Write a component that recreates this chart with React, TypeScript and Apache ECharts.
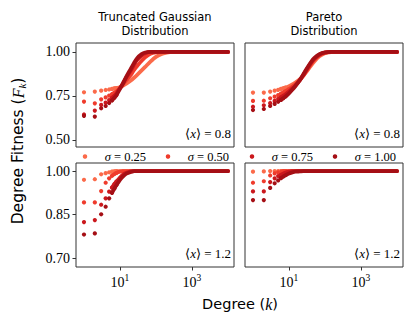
import React, { useEffect, useRef } from 'react';
import * as echarts from 'echarts';

// ---------- data ----------
const degrees = [1, 2, 3, 4, 5, 6, 7, 8, 10, 12, 15, 20, 25, 30, 40, 50, 70, 100, 150, 200, 300, 500, 1000, 3000, 10000];

const sigmaNames = ['σ = 0.25', 'σ = 0.50', 'σ = 0.75', 'σ = 1.00'];
const sigmaColors = ['#fb6a4a', '#ef3b2c', '#cb181d', '#a50f15'];

// Truncated Gaussian, <x> = 0.8
const tg08_s025 = [0.771, 0.775, 0.780, 0.784, 0.787, 0.790, 0.793, 0.795, 0.800, 0.808, 0.820, 0.838, 0.855, 0.870, 0.895, 0.915, 0.945, 0.972, 0.990, 0.997, 1, 1, 1, 1, 1];
const tg08_s050 = [0.718, 0.708, 0.731, 0.742, 0.752, 0.760, 0.768, 0.775, 0.795, 0.815, 0.840, 0.870, 0.900, 0.920, 0.950, 0.970, 0.990, 0.998, 1, 1, 1, 1, 1, 1, 1];
const tg08_s075 = [0.645, 0.667, 0.699, 0.712, 0.726, 0.740, 0.752, 0.765, 0.795, 0.820, 0.855, 0.895, 0.930, 0.955, 0.980, 0.993, 1, 1, 1, 1, 1, 1, 1, 1, 1];
const tg08_s100 = [0.637, 0.633, 0.680, 0.693, 0.710, 0.725, 0.740, 0.755, 0.790, 0.820, 0.860, 0.905, 0.940, 0.965, 0.988, 0.997, 1, 1, 1, 1, 1, 1, 1, 1, 1];

// Pareto, <x> = 0.8
const pa08_s025 = [0.769, 0.769, 0.775, 0.780, 0.785, 0.790, 0.794, 0.798, 0.806, 0.814, 0.826, 0.845, 0.865, 0.885, 0.920, 0.945, 0.975, 0.993, 0.999, 1, 1, 1, 1, 1, 1];
const pa08_s050 = [0.722, 0.723, 0.737, 0.746, 0.755, 0.763, 0.770, 0.777, 0.790, 0.800, 0.815, 0.840, 0.865, 0.890, 0.930, 0.955, 0.982, 0.996, 1, 1, 1, 1, 1, 1, 1];
const pa08_s075 = [0.689, 0.697, 0.709, 0.722, 0.733, 0.743, 0.752, 0.760, 0.775, 0.790, 0.810, 0.840, 0.870, 0.895, 0.935, 0.960, 0.985, 0.997, 1, 1, 1, 1, 1, 1, 1];
const pa08_s100 = [0.670, 0.676, 0.693, 0.705, 0.717, 0.728, 0.738, 0.747, 0.765, 0.782, 0.805, 0.840, 0.872, 0.900, 0.940, 0.965, 0.988, 0.998, 1, 1, 1, 1, 1, 1, 1];

// Truncated Gaussian, <x> = 1.2
const tg12_s025 = [0.970, 0.972, 0.989, 0.993, 0.996, 0.998, 0.999, 1, 1, 1, 1, 1, 1, 1, 1, 1, 1, 1, 1, 1, 1, 1, 1, 1, 1];
const tg12_s050 = [0.892, 0.892, 0.931, 0.960, 0.975, 0.984, 0.990, 0.994, 0.998, 1, 1, 1, 1, 1, 1, 1, 1, 1, 1, 1, 1, 1, 1, 1, 1];
const tg12_s075 = [0.824, 0.831, 0.884, 0.906, 0.929, 0.943, 0.955, 0.964, 0.978, 0.987, 0.994, 0.999, 1, 1, 1, 1, 1, 1, 1, 1, 1, 1, 1, 1, 1];
const tg12_s100 = [0.781, 0.785, 0.851, 0.877, 0.906, 0.925, 0.940, 0.952, 0.970, 0.981, 0.991, 0.997, 1, 1, 1, 1, 1, 1, 1, 1, 1, 1, 1, 1, 1];

// Pareto, <x> = 1.2
const pa12_s025 = [0.998, 0.999, 1, 1, 1, 1, 1, 1, 1, 1, 1, 1, 1, 1, 1, 1, 1, 1, 1, 1, 1, 1, 1, 1, 1];
const pa12_s050 = [0.960, 0.965, 0.985, 0.992, 0.996, 0.998, 1, 1, 1, 1, 1, 1, 1, 1, 1, 1, 1, 1, 1, 1, 1, 1, 1, 1, 1];
const pa12_s075 = [0.930, 0.930, 0.962, 0.975, 0.983, 0.988, 0.992, 0.995, 0.998, 1, 1, 1, 1, 1, 1, 1, 1, 1, 1, 1, 1, 1, 1, 1, 1];
const pa12_s100 = [0.900, 0.900, 0.942, 0.958, 0.968, 0.976, 0.982, 0.986, 0.992, 0.995, 0.998, 0.999, 1, 1, 1, 1, 1, 1, 1, 1, 1, 1, 1, 1, 1];

const panelTitles = ['Truncated Gaussian\nDistribution', 'Pareto\nDistribution'];
const panelNotes = ['0.8', '0.8', '1.2', '1.2'];
const xTickValues = [10, 1000];
const topYTicks = [0.5, 0.75, 1.0];
const bottomYTicks = [0.7, 0.85, 1.0];

const panelSeries = [
  [tg08_s025, tg08_s050, tg08_s075, tg08_s100],
  [pa08_s025, pa08_s050, pa08_s075, pa08_s100],
  [tg12_s025, tg12_s050, tg12_s075, tg12_s100],
  [pa12_s025, pa12_s050, pa12_s075, pa12_s100],
];

// ---------- layout ----------
const gridRects = [
  { left: 76, top: 43 },
  { left: 245, top: 43 },
  { left: 76, top: 163 },
  { left: 245, top: 163 },
];
const GW = 158;
const GH = 104;
const yRanges = [
  [0.46, 1.051],
  [0.46, 1.051],
  [0.669, 1.028],
  [0.669, 1.028],
];
const legendCenters = [85, 168, 252, 335];
const DOT = 4.5;

const serif = "'Liberation Serif', 'Times New Roman', serif";
const sans = "'DejaVu Sans', sans-serif";

export default function App() {
  const ref = useRef<HTMLDivElement>(null);

  useEffect(() => {
    if (!ref.current) return;
    const chart = echarts.init(ref.current, undefined, { renderer: 'svg' });

    const grids = gridRects.map((g) => ({
      left: g.left,
      top: g.top,
      width: GW,
      height: GH,
      show: true,
      borderColor: '#333',
      borderWidth: 1,
      backgroundColor: 'transparent',
    }));

    const xAxes = gridRects.map((_, i) => {
      const bottom = i >= 2;
      return {
        type: 'log',
        logBase: 10,
        gridIndex: i,
        min: 0.6,
        max: 14700,
        axisLine: { show: false },
        splitLine: { show: false },
        axisTick: bottom
          ? { show: true, customValues: xTickValues, length: 3.5, lineStyle: { color: '#333', width: 1 } }
          : { show: false },
        axisLabel: bottom
          ? {
              show: true,
              customValues: xTickValues,
              margin: 6,
              formatter: (v: number) => `{b|10}{s|${Math.round(Math.log10(v))}}`,
              rich: {
                b: { fontFamily: serif, fontSize: 14, color: '#000', lineHeight: 16, verticalAlign: 'bottom' },
                s: { fontFamily: serif, fontSize: 9.5, color: '#000', lineHeight: 16, verticalAlign: 'top' },
              },
            }
          : { show: false },
      };
    });

    const yAxes = gridRects.map((_, i) => {
      const left = i % 2 === 0;
      const ticks = i < 2 ? topYTicks : bottomYTicks;
      return {
        type: 'value',
        gridIndex: i,
        min: yRanges[i][0],
        max: yRanges[i][1],
        axisLine: { show: false },
        splitLine: { show: false },
        axisTick: left
          ? { show: true, customValues: ticks, length: 3.5, lineStyle: { color: '#333', width: 1 } }
          : { show: false },
        axisLabel: left
          ? {
              show: true,
              customValues: ticks,
              margin: 6,
              fontFamily: serif,
              fontSize: 14,
              color: '#000',
              formatter: (v: number) => v.toFixed(2),
            }
          : { show: false },
      };
    });

    const series: any[] = [];
    panelSeries.forEach((sets, p) => {
      sets.forEach((vals, s) => {
        const pts = degrees.map((k, i) => [k, vals[i]]);
        series.push({
          type: 'scatter',
          name: sigmaNames[s],
          xAxisIndex: p,
          yAxisIndex: p,
          data: pts.filter((d) => d[0] <= 8),
          symbol: 'circle',
          symbolSize: 4.2,
          itemStyle: { color: sigmaColors[s], opacity: 1 },
          silent: true,
        });
        series.push({
          type: 'line',
          name: sigmaNames[s],
          xAxisIndex: p,
          yAxisIndex: p,
          data: pts.filter((d) => d[0] >= 6),
          showSymbol: false,
          symbol: 'none',
          smooth: 0.25,
          lineStyle: { color: sigmaColors[s], width: 3.8, cap: 'round', join: 'round' },
          itemStyle: { color: sigmaColors[s] },
          silent: true,
        });
      });
    });

    const legends = sigmaNames.map((name, i) => ({
      data: [name],
      left: legendCenters[i] - DOT / 2,
      top: 150,
      padding: 0,
      icon: 'circle',
      itemWidth: DOT,
      itemHeight: DOT,
      itemGap: 0,
      selectedMode: false,
      formatter: (n: string) => `\u2003{i|σ}${n.slice(1)}`,
      textStyle: {
        fontFamily: serif,
        fontSize: 12.5,
        color: '#000',
        rich: {
          i: { fontFamily: serif, fontSize: 12.5, fontStyle: 'italic', color: '#000' },
        },
      },
    }));

    const graphics: any[] = [];
    panelTitles.forEach((t, c) => {
      graphics.push({
        type: 'text',
        x: gridRects[c].left + GW / 2,
        y: 10,
        style: {
          text: t,
          textAlign: 'center',
          align: 'center',
          textVerticalAlign: 'top',
          verticalAlign: 'top',
          fontFamily: sans,
          fontSize: 11.5,
          lineHeight: 14,
          fill: '#000',
        },
      });
    });
    panelNotes.forEach((n, i) => {
      graphics.push({
        type: 'text',
        x: gridRects[i].left + GW - 3,
        y: gridRects[i].top + GH - 14,
        style: {
          text: `⟨{i|x}⟩ = ${n}`,
          textAlign: 'right',
          align: 'right',
          textVerticalAlign: 'middle',
          verticalAlign: 'middle',
          fontFamily: serif,
          fontSize: 13,
          fill: '#000',
          rich: { i: { fontFamily: serif, fontStyle: 'italic', fontSize: 13, fill: '#000', color: '#000' } },
        },
      });
    });
    graphics.push({
      type: 'text',
      x: 18,
      y: 151,
      rotation: Math.PI / 2,
      style: {
        text: 'Degree Fitness ({f|F}{k|k})',
        textAlign: 'center',
        align: 'center',
        textVerticalAlign: 'middle',
        verticalAlign: 'middle',
        fontFamily: sans,
        fontSize: 15.5,
        fill: '#000',
        rich: {
          f: { fontFamily: serif, fontStyle: 'italic', fontSize: 16, color: '#000', lineHeight: 19, verticalAlign: 'middle' },
          k: { fontFamily: serif, fontStyle: 'italic', fontSize: 11, color: '#000', lineHeight: 19, verticalAlign: 'bottom' },
        },
      },
    });
    graphics.push({
      type: 'text',
      x: 240,
      y: 304,
      style: {
        text: 'Degree ({k|k})',
        textAlign: 'center',
        align: 'center',
        textVerticalAlign: 'middle',
        verticalAlign: 'middle',
        fontFamily: sans,
        fontSize: 14.5,
        fill: '#000',
        rich: { k: { fontFamily: serif, fontStyle: 'italic', fontSize: 16, color: '#000' } },
      },
    });

    chart.setOption({
      animation: false,
      backgroundColor: '#fff',
      grid: grids,
      xAxis: xAxes,
      yAxis: yAxes,
      legend: legends,
      series,
      graphic: graphics,
    } as any);

    return () => chart.dispose();
  }, []);

  return (
    <div
      ref={ref}
      style={{ position: 'absolute', left: 0, top: 0, width: 415, height: 332 }}
    />
  );
}
